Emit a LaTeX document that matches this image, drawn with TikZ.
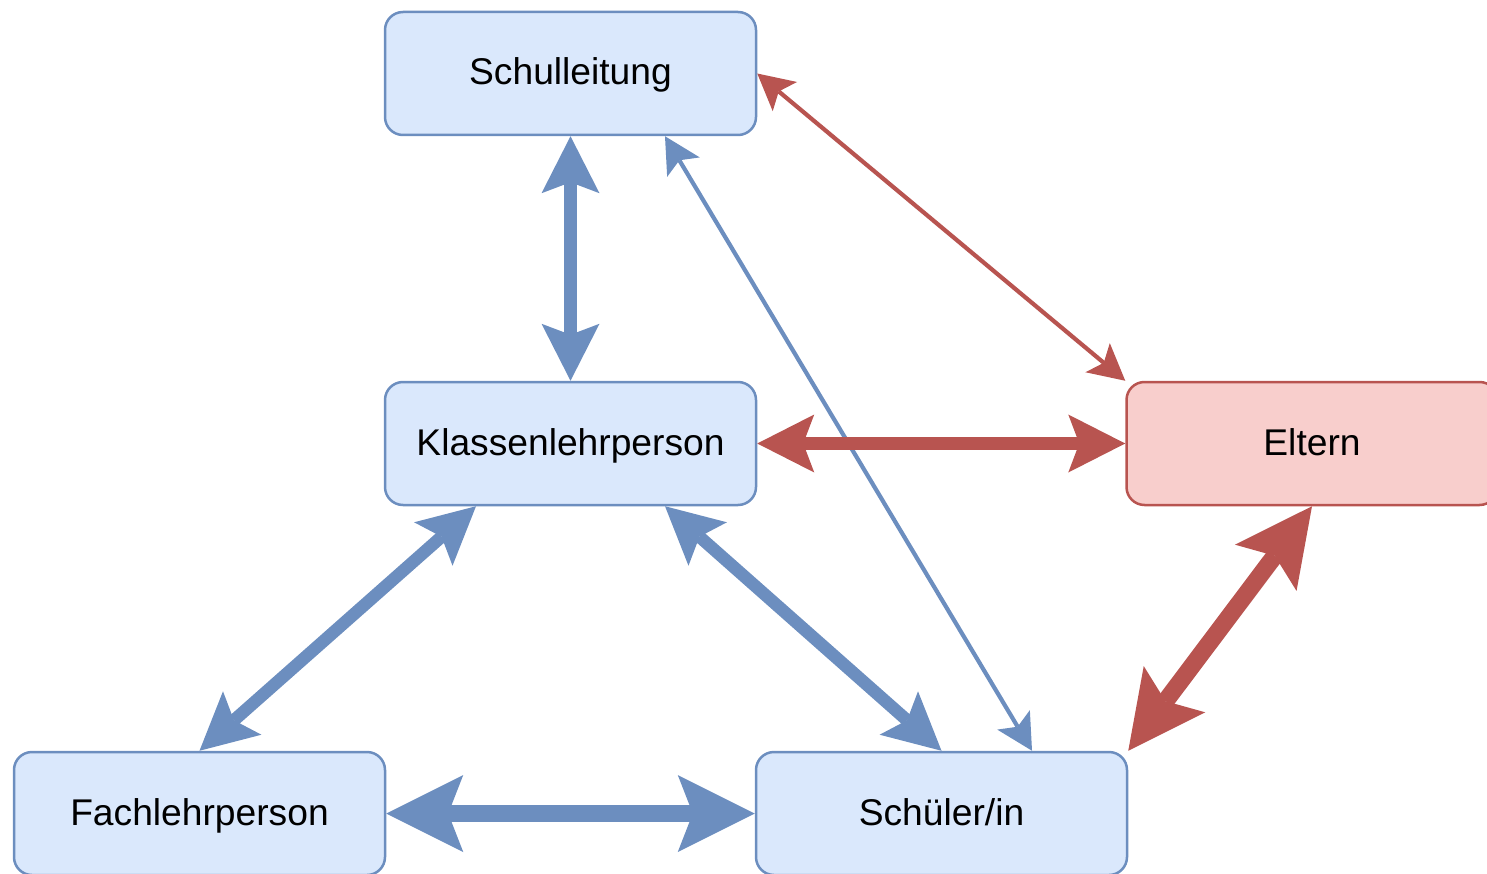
\documentclass[tikz,border=0pt]{standalone}
\usepackage{fontspec}
\setmainfont{Liberation Sans}
\usetikzlibrary{arrows.meta}
\definecolor{bfill}{HTML}{DAE8FC}
\definecolor{bline}{HTML}{6C8EBF}
\definecolor{rfill}{HTML}{F8CECC}
\definecolor{rline}{HTML}{B85450}
\tikzset{
  box/.style={draw=bline, fill=bfill, line width=2.5pt, rounded corners=18pt,
    minimum width=371pt, minimum height=123pt, inner sep=0pt,
    text height=31pt, text depth=8pt,
    font=\fontsize{37.2}{44}\selectfont},
  redbox/.style={box, draw=rline, fill=rfill},
  dbl/.style n args={4}{line width=#4,
    arrows={Stealth[length=#1,width=#2,inset=#3,line width=0pt]-Stealth[length=#1,width=#2,inset=#3,line width=0pt]}},
  thinlink/.style={dbl={36pt}{38pt}{8pt}{4.2pt}},
  midlink/.style={dbl={57pt}{58pt}{11pt}{12.5pt}},
  biglink/.style={dbl={77pt}{77pt}{15pt}{17.5pt}}
}
\begin{document}
\begin{tikzpicture}[x=1pt,y=-1pt]
\useasboundingbox (0,0) rectangle (1487,874);
\node[box] (S) at (570.5,73.5) {Schulleitung};
\node[box] (K) at (570.5,443.5) {Klassenlehrperson};
\node[redbox] (E) at (1312,443.5) {Eltern};
\node[box] (F) at (199.5,813.5) {Fachlehrperson};
\node[box] (Sch) at (941.5,813.5) {Schüler/in};

\draw[bline, midlink] (S.south) -- (K.north);
\draw[bline, thinlink] ([xshift=94.5pt]S.south) -- ([xshift=90.5pt]Sch.north);
\draw[rline, thinlink] (S.east) -- (E.north west);
\draw[rline, midlink] (K.east) -- (E.west);
\draw[bline, midlink] ([xshift=-94.5pt]K.south) -- (F.north);
\draw[bline, midlink] ([xshift=94.5pt]K.south) -- (Sch.north);
\draw[bline, biglink] (F.east) -- (Sch.west);
\draw[rline, biglink] (E.south) -- (Sch.north east);
\end{tikzpicture}
\end{document}
